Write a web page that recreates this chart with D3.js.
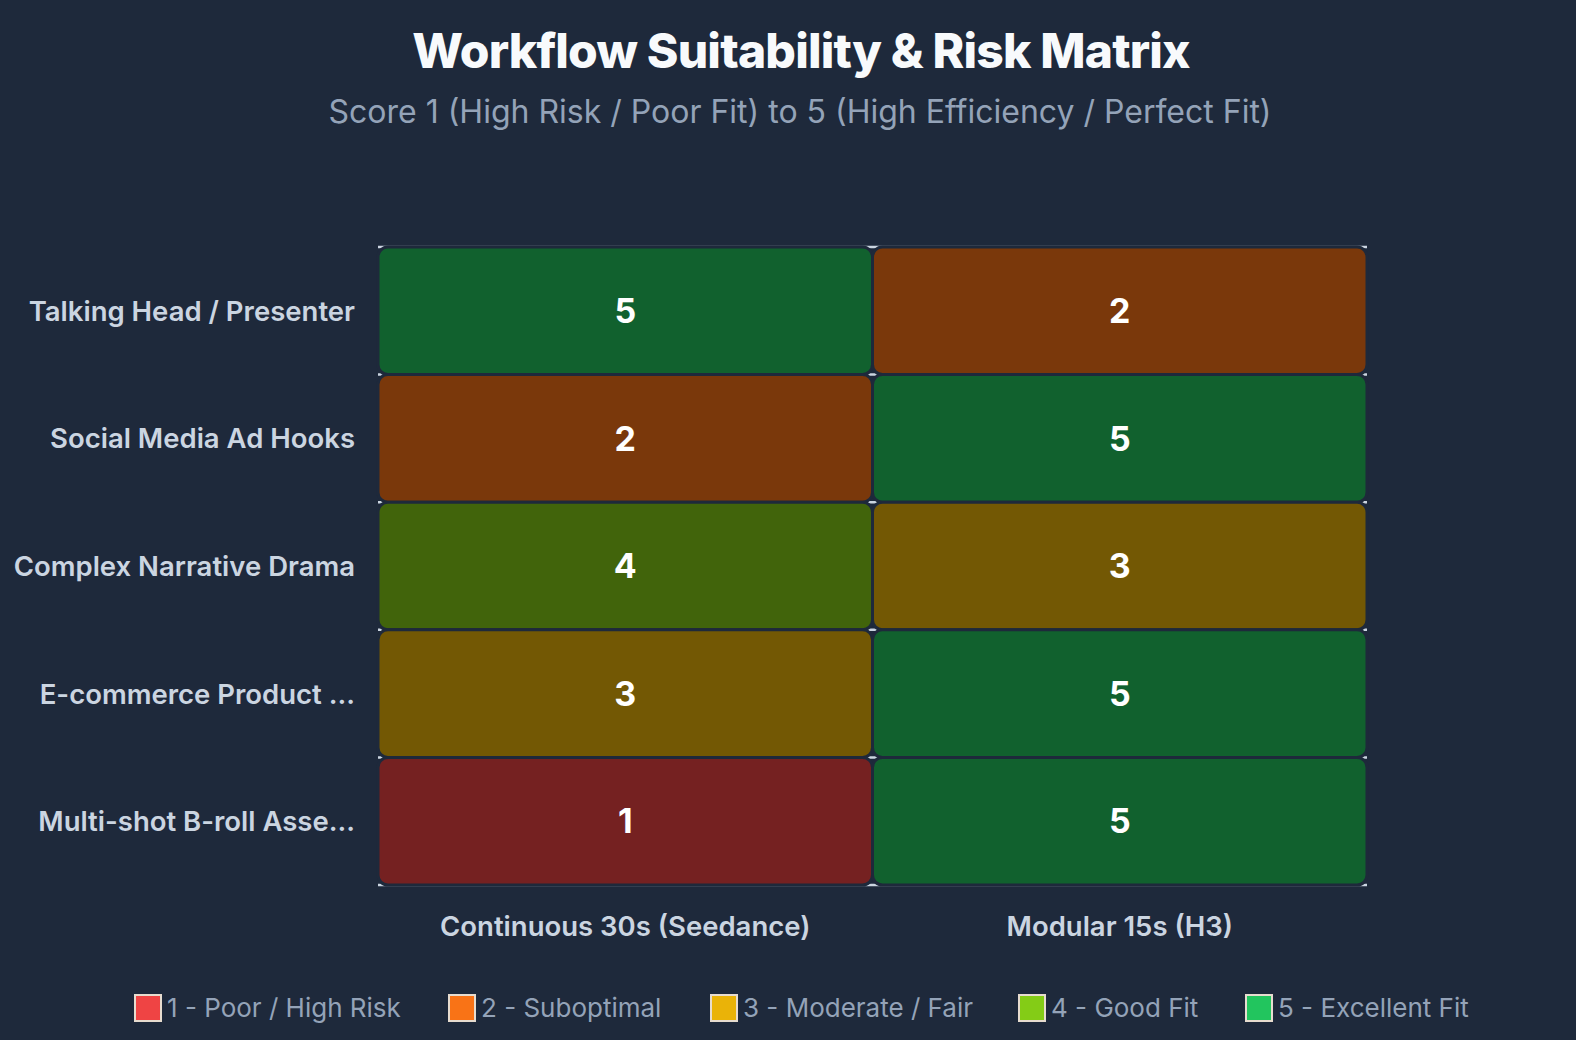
<!DOCTYPE html>
<html>
<head>
<meta charset="utf-8">
<script src="https://cdn.jsdelivr.net/npm/d3@7"></script>
<style>
  html, body { margin: 0; padding: 0; background: #1e293b; }
  svg { display: block; font-family: Inter, "Noto Sans", sans-serif; }
</style>
</head>
<body>
<div id="chart"></div>
<script>
// data
var workflows = ["Continuous 30s (Seedance)", "Modular 15s (H3)"];
var useCases = ["Talking Head / Presenter", "Social Media Ad Hooks", "Complex Narrative Drama",
                "E-commerce Product ...", "Multi-shot B-roll Asse..."];
var scores = [
  [5, 2],
  [2, 5],
  [4, 3],
  [3, 5],
  [1, 5]
];
var levels = [1, 2, 3, 4, 5];
var levelLabels = ["1 - Poor / High Risk", "2 - Suboptimal", "3 - Moderate / Fair", "4 - Good Fit", "5 - Excellent Fit"];
var levelColors = ["#ef4444", "#f97316", "#eab308", "#84cc16", "#22c55e"];

var W = 1576, H = 1040;
var margin = {top: 247, right: 209, bottom: 155, left: 378},
width = W - margin.left - margin.right,
height = H - margin.top - margin.bottom;

var root = d3.select("#chart")
.append("svg")
.attr("width", W)
.attr("height", H);

root.append("rect").attr("width", W).attr("height", H).attr("fill", "#1e293b");

// titles
root.append("text")
    .attr("x", 801).attr("y", 68)
    .attr("text-anchor", "middle")
    .attr("fill", "#f8fafc")
    .style("font-size", "48px").style("font-weight", 800)
    .style("letter-spacing", "-0.8px")
    .text("Workflow Suitability & Risk Matrix");

root.append("text")
    .attr("x", 800).attr("y", 123)
    .attr("text-anchor", "middle")
    .attr("fill", "#94a3b8")
    .style("font-size", "32px")
    .text("Score 1 (High Risk / Poor Fit) to 5 (High Efficiency / Perfect Fit)");

var svg = root.append("g")
.attr("transform", "translate(" + margin.left + "," + margin.top + ")");

var x = d3.scaleBand().domain(workflows).range([0, width]);
var y = d3.scaleBand().domain(useCases).range([0, height]);
var color = d3.scaleOrdinal().domain(levels).range(levelColors);

// row boundary lines (only peek out at the rounded corners)
var bounds = useCases.map(function(d) { return y(d); }).concat([height]);
svg.selectAll("line.rowline")
.data(bounds)
.enter()
.append("line")
.attr("class", "rowline")
.attr("x1", 0).attr("x2", width)
.attr("y1", function(d) { return d; })
.attr("y2", function(d) { return d; })
.attr("stroke", "#cbd5e1")
.attr("stroke-width", 2.5);

var cells = [];
useCases.forEach(function(u, i) {
    workflows.forEach(function(w, j) {
        cells.push({row: u, col: w, v: scores[i][j]});
    });
});

svg.selectAll("rect.cell")
.data(cells)
.enter()
.append("rect")
.attr("class", "cell")
.attr("x", function(d) { return x(d.col); })
.attr("y", function(d) { return y(d.row); })
.attr("width", x.bandwidth())
.attr("height", y.bandwidth())
.attr("rx", 10).attr("ry", 10)
.attr("fill", function(d) { return d3.color(color(d.v)).darker(2); })
.attr("stroke", "#1e293b")
.attr("stroke-width", 3);

svg.selectAll("text.val")
.data(cells)
.enter()
.append("text")
.attr("class", "val")
.attr("x", function(d) { return x(d.col) + x.bandwidth() / 2; })
.attr("y", function(d) { return y(d.row) + y.bandwidth() / 2; })
.attr("dy", "0.36em")
.attr("text-anchor", "middle")
.attr("fill", "#ffffff")
.style("font-size", "34px").style("font-weight", 700)
.text(function(d) { return d.v; });

// axes
var yAxis = svg.append("g")
    .attr("transform", "translate(-23,0)")
    .call(d3.axisLeft(y).tickSize(0).tickPadding(0));
yAxis.select(".domain").remove();
yAxis.selectAll("text")
    .attr("fill", "#cbd5e1")
    .attr("dy", "0.36em")
    .style("font-size", "27.5px").style("font-weight", 600)
    .style("font-family", "Inter, 'Noto Sans', sans-serif");

var xAxis = svg.append("g")
    .attr("transform", "translate(0," + height + ")")
    .call(d3.axisBottom(x).tickSize(0).tickPadding(31));
xAxis.select(".domain").remove();
xAxis.selectAll("text")
    .attr("fill", "#cbd5e1")
    .attr("dy", "0.71em")
    .style("font-size", "27.5px").style("font-weight", 600)
    .style("font-family", "Inter, 'Noto Sans', sans-serif");

// legend
var legendX = [134, 448, 710, 1018, 1245];
var legend = root.append("g")
    .attr("transform", "translate(0,1008)");
var item = legend.selectAll("g.item")
.data(levels)
.enter()
.append("g")
.attr("class", "item")
.attr("transform", function(d, i) { return "translate(" + legendX[i] + ",0)"; });

item.append("rect")
.attr("x", 1).attr("y", -13)
.attr("width", 26).attr("height", 26)
.attr("fill", function(d) { return color(d); })
.attr("stroke", "#e7dccf")
.attr("stroke-width", 2);

item.append("text")
.attr("x", 33).attr("dy", "0.36em")
.attr("fill", "#94a3b8")
.style("font-size", "26px")
.text(function(d, i) { return levelLabels[i]; });
</script>
</body>
</html>
